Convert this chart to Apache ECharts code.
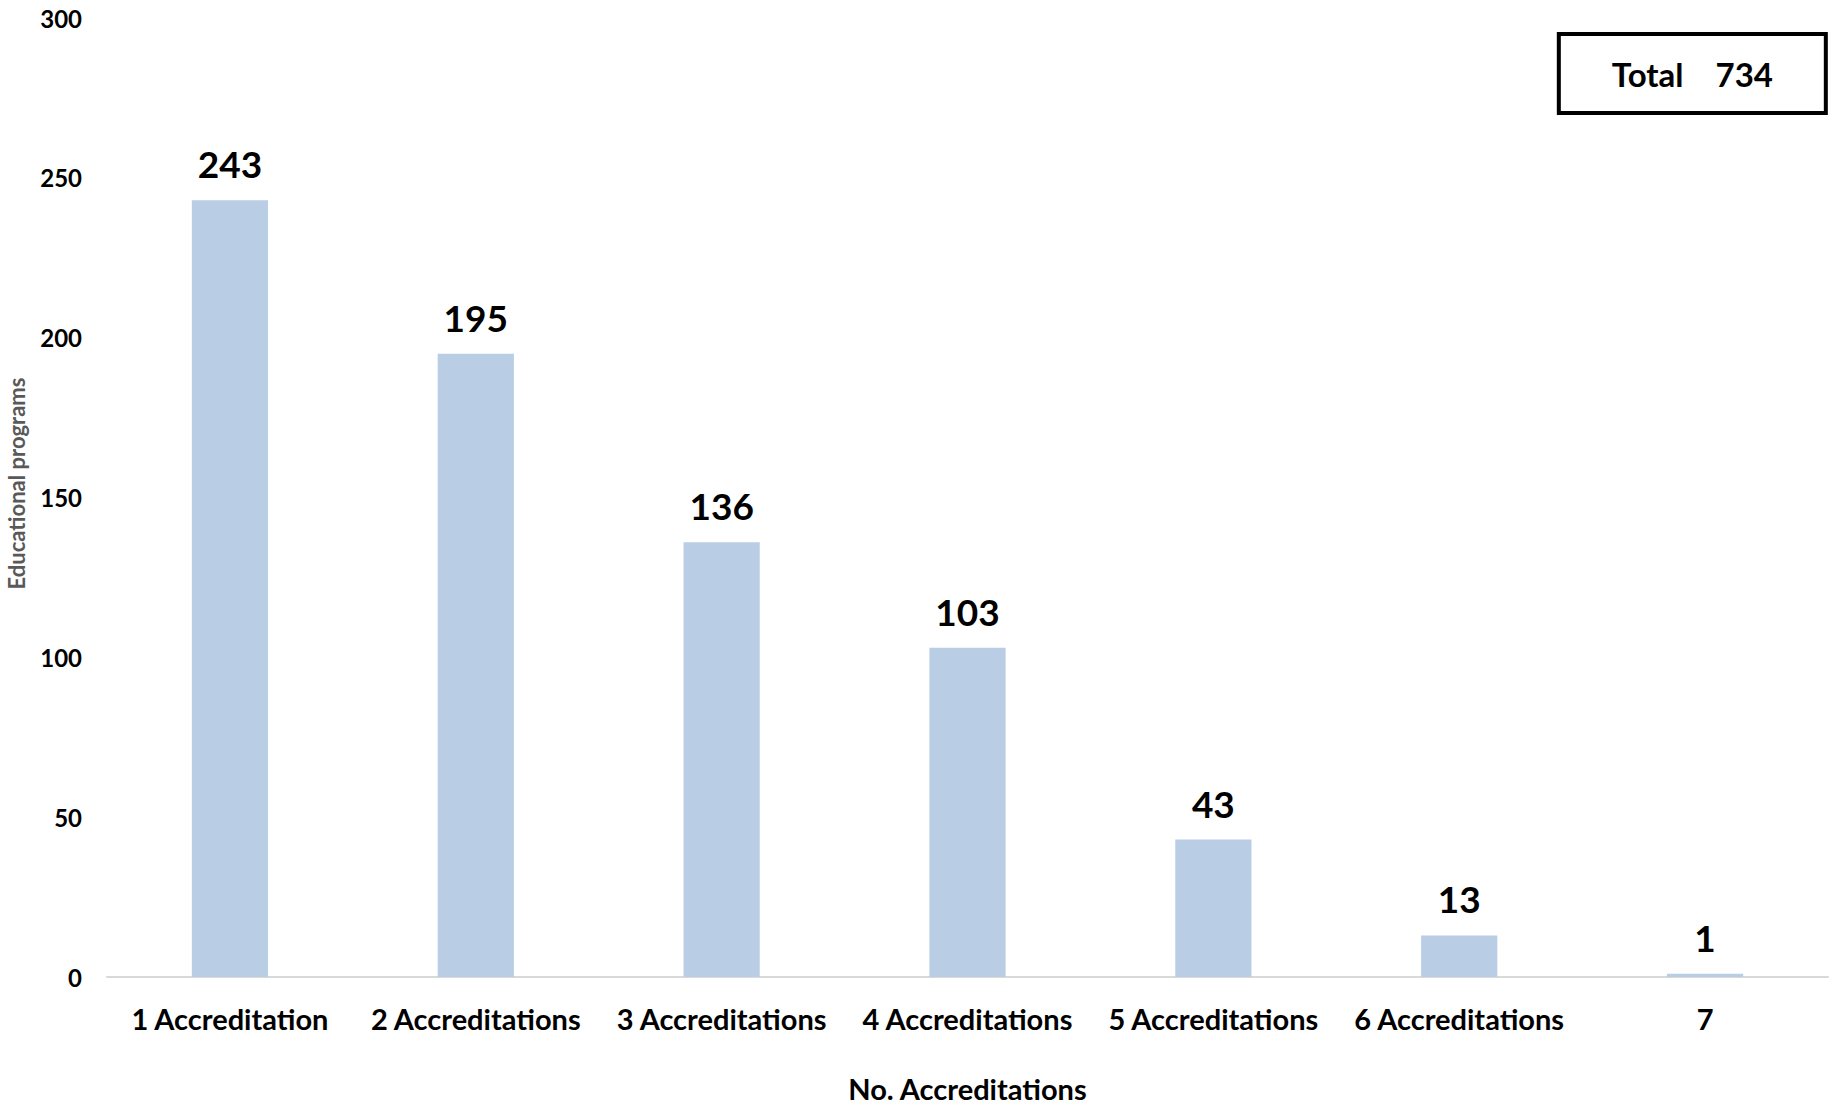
<!DOCTYPE html>
<html>
<head>
<meta charset="utf-8">
<script src="https://cdn.jsdelivr.net/npm/echarts@6/dist/echarts.min.js"></script>
<style>
  html, body { margin: 0; padding: 0; background: #fff; }
  #chart { width: 1831px; height: 1108px; }
</style>
</head>
<body>
<div id="chart"></div>
<script>
// categories and values
const categories = ['1 Accreditation', '2 Accreditations', '3 Accreditations', '4 Accreditations',
  '5 Accreditations', '6 Accreditations', '7'];
const programs = [243, 195, 136, 103, 43, 13, 1];
const yTicks = { min: 0, max: 300, interval: 50 };
const totalText = 'Total    734';

const font = 'Lato';

const chart = echarts.init(document.getElementById('chart'), null, { renderer: 'svg' });

chart.setOption({
  animation: false,
  title: {
    text: totalText,
    right: 5,
    top: 34,
    padding: [23, 53, 23, 53],
    borderColor: '#000',
    borderWidth: 4,
    textStyle: {
      fontFamily: font,
      fontWeight: 'bold',
      fontSize: 33,
      color: '#000'
    }
  },
  grid: {
    left: 107,
    right: 3,
    top: 18,
    bottom: 131,
    outerBoundsMode: 'none'
  },
  xAxis: {
    type: 'category',
    data: categories,
    name: 'No. Accreditations',
    nameLocation: 'middle',
    nameGap: 97,
    nameTextStyle: {
      fontFamily: font,
      fontWeight: 'bold',
      fontSize: 29,
      color: '#000'
    },
    axisLine: { lineStyle: { color: '#D9D9D9', width: 2 } },
    axisTick: { show: false },
    axisLabel: {
      margin: 27,
      interval: 0,
      fontFamily: font,
      fontWeight: 'bold',
      fontSize: 29,
      color: '#000'
    }
  },
  yAxis: {
    type: 'value',
    min: yTicks.min,
    max: yTicks.max,
    interval: yTicks.interval,
    name: 'Educational programs',
    nameLocation: 'middle',
    nameGap: 80,
    nameRotate: 90,
    nameTextStyle: {
      fontFamily: font,
      fontWeight: 'bold',
      fontSize: 22,
      color: '#595959',
      padding: [0, 0, 0, 28]
    },
    splitLine: { show: false },
    axisLine: { show: false },
    axisTick: { show: false },
    axisLabel: {
      margin: 25,
      fontFamily: font,
      fontWeight: 'bold',
      fontSize: 24,
      color: '#000'
    }
  },
  series: [{
    type: 'bar',
    data: programs,
    barWidth: '31%',
    itemStyle: { color: '#B9CDE5' },
    label: {
      show: true,
      position: 'top',
      distance: 18,
      fontFamily: font,
      fontWeight: 'bold',
      fontSize: 37,
      color: '#000'
    }
  }]
});
</script>
</body>
</html>
